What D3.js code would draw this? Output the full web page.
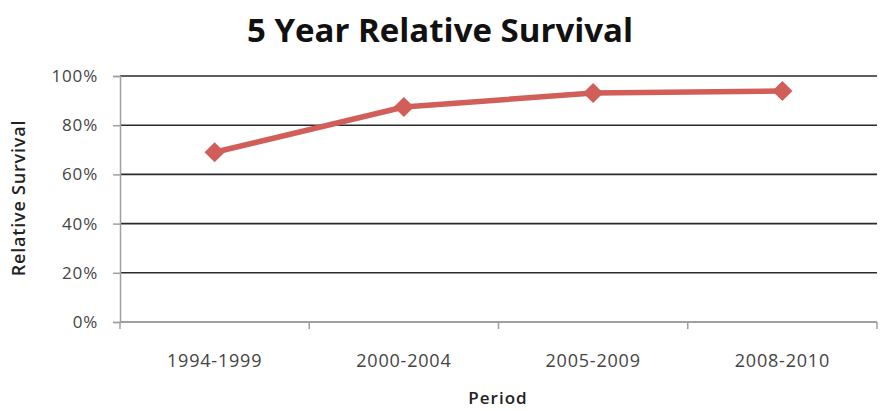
<!DOCTYPE html>
<html>
<head>
<meta charset="utf-8">
<script src="https://cdn.jsdelivr.net/npm/d3@7/dist/d3.min.js"></script>
<style>
  html, body { margin: 0; padding: 0; background: #fff; }
  svg { display: block; font-family: "Open Sans", "Lato", sans-serif; }
</style>
</head>
<body>
<svg id="chart" width="887" height="411"></svg>
<script>
// Five-year relative survival by diagnosis period
const periods = ["1994-1999", "2000-2004", "2005-2009", "2008-2010"];
const survival = [0.69, 0.874, 0.931, 0.939];
const yTicks = [0, 0.2, 0.4, 0.6, 0.8, 1.0];

const svg = d3.select("#chart");
const margin = { left: 120, right: 10, top: 76, bottom: 89 };
const W = 887, H = 411;

const x = d3.scaleBand()
  .domain(periods)
  .range([margin.left, W - margin.right])
  .paddingInner(0).paddingOuter(0);

const y = d3.scaleLinear()
  .domain([0, 1])
  .range([H - margin.bottom, margin.top]);

// Title
svg.append("text")
  .attr("x", 440).attr("y", 42)
  .attr("text-anchor", "middle")
  .attr("font-size", 33).attr("font-weight", 700)
  .attr("fill", "#111")
  .text("5 Year Relative Survival");

// Horizontal gridlines
svg.append("g")
  .selectAll("line")
  .data(yTicks.filter(d => d > 0))
  .join("line")
  .attr("x1", margin.left).attr("x2", W - margin.right)
  .attr("y1", d => y(d)).attr("y2", d => y(d))
  .attr("stroke", "#2a2a2a").attr("stroke-width", 1.6);

// Y axis
const yAxis = svg.append("g")
  .attr("transform", `translate(${margin.left},0)`)
  .call(d3.axisLeft(y).tickValues(yTicks).tickFormat(d3.format(".0%")).tickSize(7).tickPadding(15));
yAxis.select(".domain").attr("stroke", "#a0a0a0").attr("stroke-width", 1.5);
yAxis.selectAll(".tick line").attr("stroke", "#a0a0a0").attr("stroke-width", 1.5);
yAxis.selectAll(".tick text")
  .attr("font-size", 17).attr("fill", "#444")
  .attr("letter-spacing", 0.8)
  .attr("font-family", "\"Open Sans\", sans-serif");

// X axis with ticks at category boundaries
const xAxisG = svg.append("g")
  .attr("transform", `translate(0,${y(0)})`);
xAxisG.append("line")
  .attr("x1", margin.left).attr("x2", W - margin.right)
  .attr("stroke", "#a0a0a0").attr("stroke-width", 2);
const bounds = periods.map(p => x(p)).concat([x(periods[periods.length - 1]) + x.bandwidth()]);
xAxisG.selectAll("line.tk")
  .data(bounds)
  .join("line").attr("class", "tk")
  .attr("x1", d => d).attr("x2", d => d)
  .attr("y1", 0).attr("y2", 7)
  .attr("stroke", "#a0a0a0").attr("stroke-width", 1.5);
xAxisG.selectAll("text")
  .data(periods)
  .join("text")
  .attr("x", d => x(d) + x.bandwidth() / 2)
  .attr("y", 45)
  .attr("text-anchor", "middle")
  .attr("font-size", 18).attr("fill", "#444")
  .attr("letter-spacing", 0.8)
  .text(d => d);

// Axis titles
svg.append("text")
  .attr("x", 498).attr("y", 404)
  .attr("text-anchor", "middle")
  .attr("font-size", 17).attr("font-weight", 600).attr("fill", "#222")
  .attr("letter-spacing", 1)
  .text("Period");
svg.append("text")
  .attr("transform", "translate(25,198) rotate(-90)")
  .attr("text-anchor", "middle")
  .attr("font-size", 18).attr("font-weight", 600).attr("fill", "#222")
  .attr("letter-spacing", 0.8)
  .text("Relative Survival");

// Series line and diamond markers
const pts = periods.map((p, i) => [x(p) + x.bandwidth() / 2, y(survival[i])]);
svg.append("path")
  .attr("d", d3.line()(pts))
  .attr("fill", "none")
  .attr("stroke", "#d25e5a").attr("stroke-width", 5.5)
  .attr("stroke-linejoin", "round");
svg.append("g")
  .selectAll("path")
  .data(pts)
  .join("path")
  .attr("transform", d => `translate(${d[0]},${d[1]})`)
  .attr("d", d3.symbol(d3.symbolDiamond2, 260))
  .attr("fill", "#d25e5a");
</script>
</body>
</html>
